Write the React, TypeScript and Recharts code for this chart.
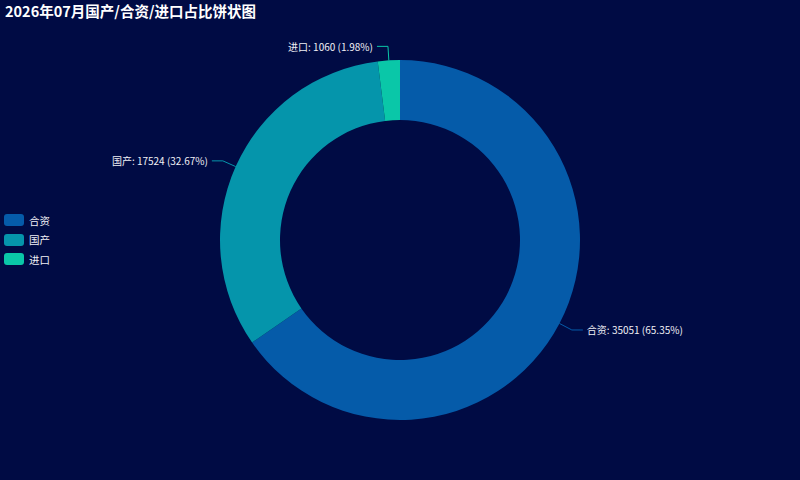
import React from 'react'
import { PieChart, Pie, Cell } from 'recharts'

const names = ['合资', '国产', '进口']
const values = [35051, 17524, 1060]
const colors = ['#055ba9', '#0595ab', '#0ac7a8']

const BG = '#000b44'
const FONT = '"Noto Sans CJK SC", "Noto Sans", sans-serif'
const RAD = Math.PI / 180

const data = names.map((name, i) => ({ name, value: values[i] }))

function renderLabel(props: any) {
  const { cx, cy, midAngle, outerRadius, index, percent, value, name } = props
  const cos = Math.cos(-midAngle * RAD)
  const sin = Math.sin(-midAngle * RAD)
  const sx = cx + outerRadius * cos
  const sy = cy + outerRadius * sin
  const mx = cx + (outerRadius + 14) * cos
  const my = cy + (outerRadius + 14) * sin
  const dir = cos >= 0 ? 1 : -1
  const ex = mx + dir * 11
  const color = colors[index]
  return (
    <g>
      <path d={`M${sx},${sy}L${mx},${my}L${ex},${my}`} stroke={color} fill="none" strokeWidth={1} />
      <text
        x={ex + dir * 4}
        y={my}
        textAnchor={dir > 0 ? 'start' : 'end'}
        dominantBaseline="central"
        fill="#f0f0f5"
        fontSize={10}
        fontFamily={FONT}
      >
        {`${name}: ${value} (${(percent * 100).toFixed(2)}%)`}
      </text>
    </g>
  )
}

export default function App() {
  return (
    <div style={{ position: 'absolute', left: 0, top: 0, width: 800, height: 480, background: BG }}>
      <div
        style={{
          position: 'absolute',
          left: 5,
          top: 1,
          color: '#fff',
          fontWeight: 'bold',
          fontSize: 14.5,
          fontFamily: FONT,
          lineHeight: '20px',
        }}
      >
        2026年07月国产/合资/进口占比饼状图
      </div>
      <div style={{ position: 'absolute', left: 4, top: 214, display: 'flex', flexDirection: 'column', gap: 7.5 }}>
        {names.map((n, i) => (
          <div key={n} style={{ display: 'flex', alignItems: 'center', height: 12 }}>
            <div style={{ width: 20, height: 12, borderRadius: 3, background: colors[i], marginRight: 5 }} />
            <span style={{ color: '#f0f0f5', fontSize: 10.5, fontFamily: FONT }}>{n}</span>
          </div>
        ))}
      </div>
      <div style={{ position: 'absolute', left: 0, top: 0 }}>
        <PieChart width={800} height={480} margin={{ top: 0, right: 0, bottom: 0, left: 0 }}>
          <Pie
            data={data}
            dataKey="value"
            nameKey="name"
            cx={400}
            cy={240}
            innerRadius={120}
            outerRadius={180}
            startAngle={90}
            endAngle={-270}
            stroke="none"
            label={renderLabel}
            labelLine={false}
            isAnimationActive={false}
          >
            {data.map((d, i) => (
              <Cell key={d.name} fill={colors[i]} />
            ))}
          </Pie>
        </PieChart>
      </div>
    </div>
  )
}
